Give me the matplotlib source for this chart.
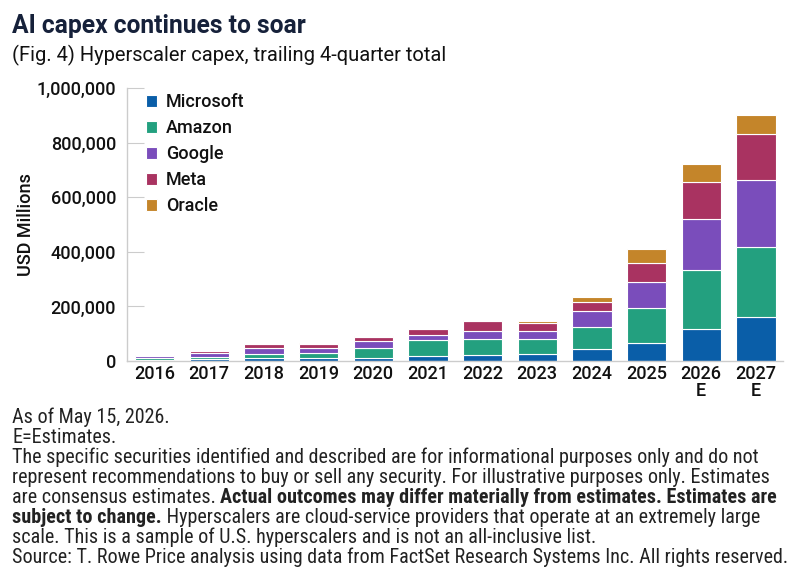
import matplotlib
matplotlib.use("Agg")
import matplotlib.pyplot as plt
from matplotlib import font_manager
import numpy as np

years = ["2016", "2017", "2018", "2019", "2020", "2021", "2022", "2023",
         "2024", "2025", "2026\nE", "2027\nE"]
companies = ["Microsoft", "Amazon", "Google", "Meta", "Oracle"]

# USD millions
microsoft = [5000, 7000, 11000, 12000, 12000, 20000, 22000, 27000, 45000, 65000, 117000, 163000]
amazon = [5000, 9000, 15000, 16000, 37000, 56000, 59000, 53000, 81000, 128000, 215000, 254000]
google = [7000, 12000, 23000, 20000, 26000, 20000, 29000, 29000, 57000, 95000, 190000, 246000]
meta = [4000, 7000, 12000, 16000, 13000, 21000, 35000, 30000, 33000, 72000, 135000, 167000]
oracle = [1000, 2000, 1000, 2000, 2000, 2000, 5000, 6000, 20000, 49000, 65000, 72000]

series = [microsoft, amazon, google, meta, oracle]
colors = ["#0a5ea8", "#23a07f", "#7a4dbb", "#a93361", "#c4852a"]

names = {f.name for f in font_manager.fontManager.ttflist}
narrow = None
for cand in ["Roboto Condensed", "Liberation Sans Narrow", "Open Sans Condensed"]:
    if cand in names:
        narrow = cand
        break

plt.rcParams["font.family"] = ["Roboto", "DejaVu Sans"]
dark = "#111111"

fig = plt.figure(figsize=(8, 5.87), dpi=100)
ax = fig.add_axes([0.159, 0.385, 0.82, 0.465])

x = np.arange(len(years))
bottom = np.zeros(len(years))
for name, vals, c in zip(companies, series, colors):
    ax.bar(x, vals, 0.72, bottom=bottom, color=c, label=name,
           edgecolor="white", linewidth=0.8)
    bottom += np.array(vals)

ax.set_xlim(-0.5, 11.5)
ax.set_ylim(0, 1000000)
ax.set_yticks(np.arange(0, 1000001, 200000))
ax.yaxis.set_major_formatter(matplotlib.ticker.FuncFormatter(lambda v, p: f"{int(v):,}"))
ax.set_xticks(x)
ax.set_xticklabels(years, linespacing=0.9)
for s in ["top", "right"]:
    ax.spines[s].set_visible(False)
for s in ["left", "bottom"]:
    ax.spines[s].set_color("#cccccc")
    ax.spines[s].set_linewidth(1)
ax.tick_params(axis="y", direction="in", length=12, color="#cccccc",
               labelsize=13, labelcolor=dark, pad=8)
ax.tick_params(axis="x", length=0, labelsize=13, labelcolor=dark, pad=3)
for lab in ax.get_xticklabels() + ax.get_yticklabels():
    lab.set_fontweight("medium")
ax.set_ylabel("USD Millions", fontsize=13, color=dark, labelpad=1, fontweight="medium")

leg = ax.legend(loc="upper left", bbox_to_anchor=(0.004, 1.04), frameon=False,
                fontsize=13, handlelength=0.6, handleheight=0.6,
                handletextpad=0.5, labelspacing=0.44)
for t in leg.get_texts():
    t.set_fontweight("medium")
    t.set_color(dark)

fig.text(0.015, 0.943, "AI capex continues to soar", fontsize=17.7, fontweight="bold",
         color="#16213a")
fig.text(0.015, 0.896, "(Fig. 4) Hyperscaler capex, trailing 4-quarter total",
         fontsize=14.5, color=dark)

# footer notes with bold runs
foot_family = [narrow, "DejaVu Sans"] if narrow else ["Roboto", "DejaVu Sans"]
lines = [
    [("As of May 15, 2026.", "normal")],
    [("E=Estimates.", "normal")],
    [("The specific securities identified and described are for informational purposes only and do not", "normal")],
    [("represent recommendations to buy or sell any security. For illustrative purposes only. Estimates", "normal")],
    [("are consensus estimates. ", "normal"),
     ("Actual outcomes may differ materially from estimates. Estimates are", "bold")],
    [("subject to change.", "bold"),
     (" Hyperscalers are cloud-service providers that operate at an extremely large", "normal")],
    [("scale. This is a sample of U.S. hyperscalers and is not an all-inclusive list.", "normal")],
    [("Source: T. Rowe Price analysis using data from FactSet Research Systems Inc. All rights reserved.", "normal")],
]
renderer = fig.canvas.get_renderer()
# size the footer so the source line spans the same width as in the original
probe = fig.text(0, 0, lines[-1][0][0], fontsize=10, family=foot_family)
w10 = probe.get_window_extent(renderer=renderer).width
probe.remove()
foot_size = 10 * 773 / w10

y0 = 423
for i, runs in enumerate(lines):
    ypx = 587 - (y0 + i * 20)
    xpx = 12
    for txt, w in runs:
        t = fig.text(xpx / 800, ypx / 587, txt, fontsize=foot_size, fontweight=w,
                     family=foot_family, color="#222222", va="baseline")
        bb = t.get_window_extent(renderer=renderer)
        xpx += bb.width

fig.savefig("out.png", dpi=100)
